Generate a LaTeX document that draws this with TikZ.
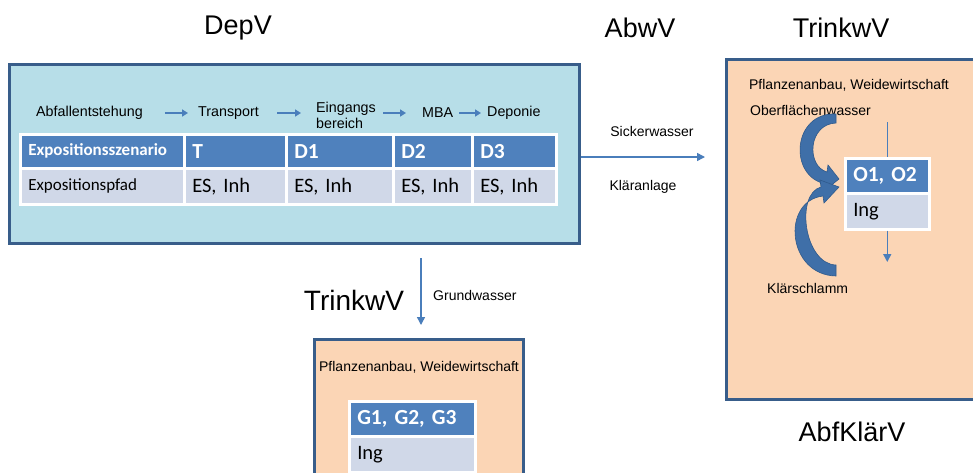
\documentclass[tikz,border=0pt]{standalone}
\usepackage{fontspec}
\setmainfont{Liberation Sans}
\newfontfamily\calib{Carlito}
\usetikzlibrary{arrows.meta}
\definecolor{depfill}{HTML}{B7DEE8}
\definecolor{boxline}{HTML}{385D8A}
\definecolor{peach}{HTML}{FBD5B5}
\definecolor{hdr}{HTML}{4F81BD}
\definecolor{rowc}{HTML}{D0D8E8}
\definecolor{arr}{HTML}{4A7EBB}
\definecolor{curv}{HTML}{3F6FA8}
\definecolor{curvd}{HTML}{2F5A8C}
\begin{document}
\begin{tikzpicture}[x=1pt,y=-1pt,
  title/.style={font=\fontsize{27}{32}\selectfont, inner sep=0pt},
  lbl/.style={font=\fontsize{14}{16}\selectfont, inner sep=0pt},
  bigbox/.style={draw=boxline, line width=2.5pt, anchor=north west, inner sep=0pt},
  hcell/.style={fill=hdr, draw=white, line width=2.5pt, anchor=north west, inner xsep=8pt, inner ysep=0pt,
     align=left, text=white, font=\calib\bfseries\fontsize{21.5}{24}\selectfont, minimum height=34pt},
  rcell/.style={fill=rowc, draw=white, line width=2.5pt, anchor=north west, inner xsep=8pt, inner ysep=0pt,
     align=left, text=black, font=\calib\fontsize{20.5}{24}\selectfont, minimum height=36pt},
  flowarrow/.style={draw=arr, line width=1.8pt, -{Triangle[width=7pt,length=6pt]}},
  thinarrow/.style={draw=arr, line width=1.5pt, -{Triangle[width=8pt,length=8pt]}}
]
\clip (0,0) rectangle (973,472);
\fill[white] (0,0) rectangle (973,472);

% titles
\node[title] (tdep) at (238,28) {DepV};
\node[title] (tabw) at (640,28) {AbwV};
\node[title] (ttr1) at (841,28) {TrinkwV};
\node[title] (tabf) at (852,432) {AbfKlärV};
\node[title, font=\fontsize{28}{32}\selectfont] (ttr2) at (354,300) {TrinkwV};

% big boxes
\node[bigbox, fill=depfill, minimum width=570pt, minimum height=179pt] (depv) at (8,63) {};
\node[bigbox, fill=peach, minimum width=251pt, minimum height=340pt] (abf) at (725,58) {};
\node[bigbox, fill=peach, minimum width=209pt, minimum height=150pt] (grund) at (313,338) {};

% flow line
\node[lbl, font=\fontsize{14.3}{16}\selectfont, anchor=west] (f1) at (36,113) {Abfallentstehung};
\node[lbl, font=\fontsize{14.3}{16}\selectfont, anchor=west] (f2) at (198,113) {Transport};
\node[lbl, font=\fontsize{14.3}{16}\selectfont, anchor=west, align=left] (f3) at (316,115) {Eingangs\\bereich};
\node[lbl, font=\fontsize{14.3}{16}\selectfont, anchor=west] (f4) at (422,113) {MBA};
\node[lbl, font=\fontsize{14.3}{16}\selectfont, anchor=west] (f5) at (487,113) {Deponie};
\draw[flowarrow] ([xshift=22pt]f1.east) -- ([xshift=-10pt]f2.west);
\draw[flowarrow] ([xshift=18pt]f2.east) -- ([xshift=-15pt]f3.west |- f2.west);
\draw[flowarrow] ([xshift=7pt]f3.east |- f4.west) -- ([xshift=-16pt]f4.west);
\draw[flowarrow] ([xshift=6pt]f4.east) -- ([xshift=-6pt]f5.west);

% table
\node[hcell, text width=148pt, font=\calib\bfseries\fontsize{17}{20}\selectfont] (h0) at (19,133) {Expositionsszenario};
\node[hcell, text width=86pt] (h1) at (183,133) {T};
\node[hcell, text width=91pt] (h2) at (285,133) {D1};
\node[hcell, text width=63pt] (h3) at (392,133) {D2};
\node[hcell, text width=68pt] (h4) at (471,133) {D3};
\node[rcell, text width=148pt, font=\calib\fontsize{17}{20}\selectfont] (r0) at (19,167) {Expositionspfad\rule[-4pt]{0pt}{1pt}};
\node[rcell, text width=86pt] (r1) at (183,167) {ES, Inh};
\node[rcell, text width=91pt] (r2) at (285,167) {ES, Inh};
\node[rcell, text width=63pt] (r3) at (392,167) {ES, Inh};
\node[rcell, text width=68pt] (r4) at (471,167) {ES, Inh};

% Sickerwasser arrow
\coordinate (s1) at (depv.east |- 0,157);
\coordinate (s2) at (705,157);
\draw[thinarrow] (s1) -- (s2);
\node[lbl] (sick) at (652,131) {Sickerwasser};
\node[lbl] (klaer) at (643,187) {Kläranlage};

% Grundwasser arrow
\coordinate (g1) at (421,258);
\coordinate (g2) at (421,325);
\draw[thinarrow] (g1) -- (g2);
\node[lbl, anchor=west] (gw) at (433,295) {Grundwasser};

% bottom box contents
\node[lbl] (pf2) at (419,367) {Pflanzenanbau, Weidewirtschaft};
\node[hcell, anchor=north west, text width=110pt, minimum height=35pt] (gh) at (348,400) {G1, G2, G3};
\node[rcell, anchor=north west, text width=110pt, minimum height=36pt] (gr) at (348,435) {Ing};

% right box contents
\node[lbl] (pf1) at (849,85) {Pflanzenanbau, Weidewirtschaft};
\node[lbl, anchor=west] (ofw) at (750,110) {Oberflächenwasser};
\node[lbl, anchor=west] (ks) at (767,288) {Klärschlamm};
\node[hcell, anchor=north west, text width=68pt, minimum height=35pt] (oh) at (844,157) {O1, O2};
\node[rcell, anchor=north west, text width=68pt, minimum height=36pt] (or) at (844,192) {Ing};
\coordinate (ot) at (oh.north |- 0,122);
\coordinate (ob) at (or.south |- 0,262);
\draw[draw=arr, line width=1.5pt] (ot) -- (oh.north);
\draw[thinarrow] (or.south) -- (ob);

% curved arrows
\fill[curv, draw=curvd, line width=0.6pt]
  (836,114) .. controls (792,112) and (788,177) .. (826,184)
  -- (824,191) -- (839,179) -- (828,165) -- (827,172)
  .. controls (806,166) and (808,124) .. (836,123) -- cycle;
\fill[curv, draw=curvd, line width=0.6pt]
  (836,276) .. controls (787,275) and (781,201) .. (823,196)
  -- (824,203) -- (839,187) -- (820,180) -- (821,187)
  .. controls (795,194) and (804,264) .. (836,265) -- cycle;
\end{tikzpicture}
\end{document}
